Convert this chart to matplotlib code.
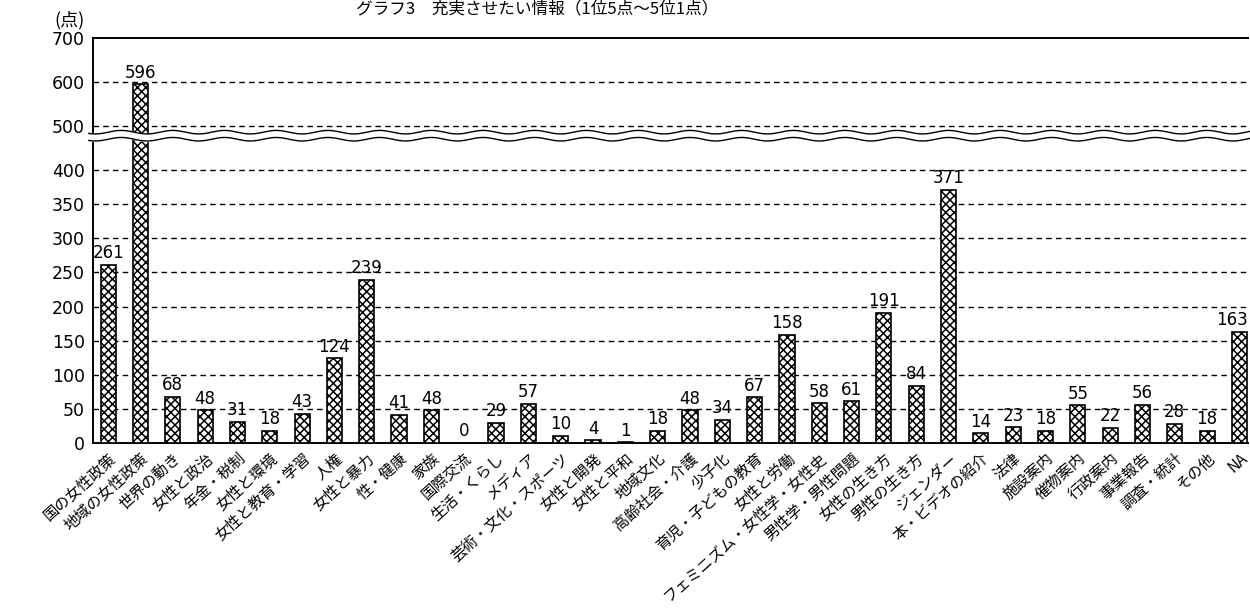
import numpy as np
import matplotlib
matplotlib.use("Agg")
import matplotlib.pyplot as plt

plt.rcParams['font.family'] = ['Noto Sans CJK JP', 'DejaVu Sans']
plt.rcParams['hatch.linewidth'] = 1.1

categories = [
    "国の女性政策", "地域の女性政策", "世界の動き", "女性と政治", "年金・税制",
    "女性と環境", "女性と教育・学習", "人権", "女性と暴力", "性・健康",
    "家族", "国際交流", "生活・くらし", "メディア", "芸術・文化・スポーツ",
    "女性と開発", "女性と平和", "地域文化", "高齢社会・介護", "少子化",
    "育児・子どもの教育", "女性と労働", "フェミニズム・女性学・女性史", "男性学・男性問題", "女性の生き方",
    "男性の生き方", "ジェンダー", "本・ビデオの紹介", "法律", "施設案内",
    "催物案内", "行政案内", "事業報告", "調査・統計", "その他", "NA",
]
points = [
    261, 596, 68, 48, 31, 18, 43, 124, 239, 41,
    48, 0, 29, 57, 10, 4, 1, 18, 48, 34,
    67, 158, 58, 61, 191, 84, 371, 14, 23, 18,
    55, 22, 56, 28, 18, 163,
]
yticks = [0, 50, 100, 150, 200, 250, 300, 350, 400, 500, 600, 700]
grid_levels = [50, 100, 150, 200, 250, 300, 350, 400, 500, 600]

# axis is compressed above 400 (broken scale)
BREAK, RATIO = 400.0, 0.645


def fwd(y):
    y = np.asarray(y, dtype=float)
    return np.where(y <= BREAK, y, BREAK + (y - BREAK) * RATIO)


def inv(v):
    v = np.asarray(v, dtype=float)
    return np.where(v <= BREAK, v, BREAK + (v - BREAK) / RATIO)


fig = plt.figure(figsize=(12.5, 6.08), dpi=100)
ax = fig.add_axes([0.0744, 0.2714, 0.9236, 0.6661])
ax.set_yscale('function', functions=(fwd, inv))

x = np.arange(len(categories))
xmax = len(categories) - 1 + 0.25
ax.bar(x, points, width=0.47, color='white', edgecolor='black',
       linewidth=1.2, hatch='xxxx', zorder=3)

for xi, v in zip(x, points):
    last = xi == x[-1]
    ax.text(xmax if last else xi, v + 4, str(v), ha='right' if last else 'center',
            va='bottom', fontsize=12, family='DejaVu Sans', zorder=5)

for g in grid_levels:
    ax.axhline(g, color='black', lw=1, ls=(0, (4, 3)), zorder=1)

ax.set_ylim(0, 700)
ax.set_xlim(-0.47, xmax)
ax.set_yticks(yticks)
ax.set_yticklabels([str(t) for t in yticks], family='DejaVu Sans', fontsize=12.5)
ax.tick_params(axis='y', length=0, pad=6)
ax.tick_params(axis='x', length=0, pad=5)
ax.set_xticks(x)
ax.set_xticklabels(categories, rotation=42, ha='right', rotation_mode='anchor',
                   fontsize=11)

for side in ('top', 'left', 'bottom'):
    ax.spines[side].set_linewidth(1.4)
ax.spines['right'].set_visible(False)

# wavy break marks
xw = np.linspace(-0.6, len(categories), 800)
wave = 4.0 * np.sin(xw * 2 * np.pi / 1.6)
lo, hi = 470 + wave, 486 + wave
ax.fill_between(xw, lo, hi, color='white', zorder=6, clip_on=False)
ax.plot(xw, lo, color='black', lw=1, zorder=7, clip_on=False)
ax.plot(xw, hi, color='black', lw=1, zorder=7, clip_on=False)

fig.text(0.056, 0.967, "(点)", fontsize=13, ha='center', va='center')
fig.text(0.43, 0.999, "グラフ3　充実させたい情報（1位5点～5位1点）",
         fontsize=12, ha='center', va='top')

fig.savefig("out.png", dpi=100)
